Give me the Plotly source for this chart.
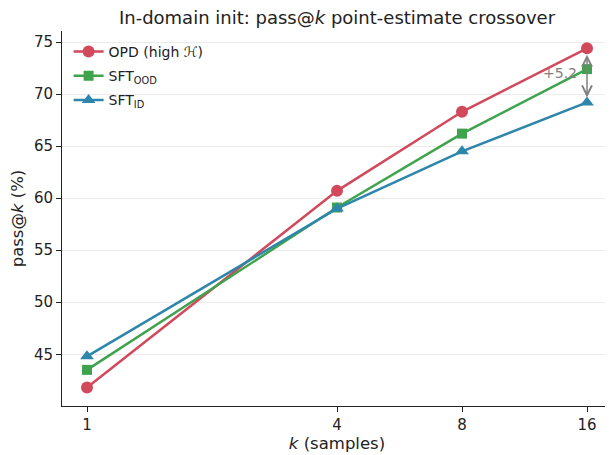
import math
import plotly.graph_objects as go

k_values = [1, 4, 8, 16]
opd = [41.8, 60.7, 68.3, 74.4]
sft_ood = [43.5, 59.1, 66.2, 72.4]
sft_id = [44.8, 59.0, 64.5, 69.2]
y_ticks = [45, 50, 55, 60, 65, 70, 75]

series = [
    ("OPD (high ℋ)", opd, "#d1495b", "circle", 12),
    ("SFT<sub>OOD</sub>", sft_ood, "#3fa34d", "square", 10),
    ("SFT<sub>ID</sub>", sft_id, "#2e86ab", "triangle-up", 12),
]

fig = go.Figure()
for i, (name, vals, color, sym, size) in enumerate(series):
    fig.add_trace(go.Scatter(
        x=k_values, y=vals, mode="lines+markers", name=name, legendgroup=f"g{i}",
        line=dict(color=color, width=2.5),
        marker=dict(symbol=sym, size=size, color=color),
    ))

gap = opd[-1] - sft_id[-1]
xk = math.log10(k_values[-1])
fig.add_annotation(
    x=xk, y=sft_id[-1], ax=xk, ay=opd[-1], xref="x", yref="y", axref="x", ayref="y",
    text="", showarrow=True, arrowhead=5, startarrowhead=5, arrowside="end+start",
    arrowsize=1.3, startarrowsize=1.3,
    arrowwidth=1.5, arrowcolor="#808080", standoff=5, startstandoff=5,
)
fig.add_annotation(
    x=xk, y=(opd[-1] + sft_id[-1]) / 2 + 0.2, xref="x", yref="y",
    text=f"+{gap:.1f}", showarrow=False, xanchor="right", xshift=-8,
    font=dict(color="#808080", size=14),
)

# page body adds an 8px offset; figure is sized to fill the 613x455 window
W, H = 605, 447
fig.update_layout(
    width=W, height=H,
    margin=dict(l=54, r=1, t=23, b=49, autoexpand=False),
    paper_bgcolor="white", plot_bgcolor="white",
    font=dict(family="DejaVu Sans", size=14, color="#222"),
    title=dict(text="In-domain init: pass@<i>k</i> point-estimate crossover",
               x=(54 + (W - 55) / 2) / W, xanchor="center", y=1 - 9.5 / H, yanchor="middle",
               font=dict(size=18)),
    showlegend=True,
    legend=dict(x=0.012, y=0.987, xanchor="left", yanchor="top", bgcolor="rgba(0,0,0,0)",
                font=dict(size=14), tracegroupgap=3),
)
fig.update_xaxes(
    type="log", range=[-0.2 * math.log10(2), math.log10(16) + 0.2 * math.log10(2)],
    tickvals=k_values, ticktext=[str(v) for v in k_values],
    showgrid=False, showline=True, linecolor="#222", linewidth=1,
    ticks="outside", ticklen=5, tickcolor="#222", zeroline=False, automargin=False,
    tickfont=dict(size=15),
    title=dict(text="<i>k</i> (samples)", font=dict(size=16.5), standoff=4),
)
fig.update_yaxes(
    range=[40.03, 76.06], tickvals=y_ticks,
    showgrid=True, gridcolor="#ebebeb", gridwidth=1,
    showline=True, linecolor="#222", linewidth=1,
    ticks="outside", ticklen=5, tickcolor="#222", zeroline=False, automargin=False,
    tickfont=dict(size=15),
    title=dict(text="pass@<i>k</i> (%)", font=dict(size=16.5), standoff=8),
)

fig.write_html("out.html")
